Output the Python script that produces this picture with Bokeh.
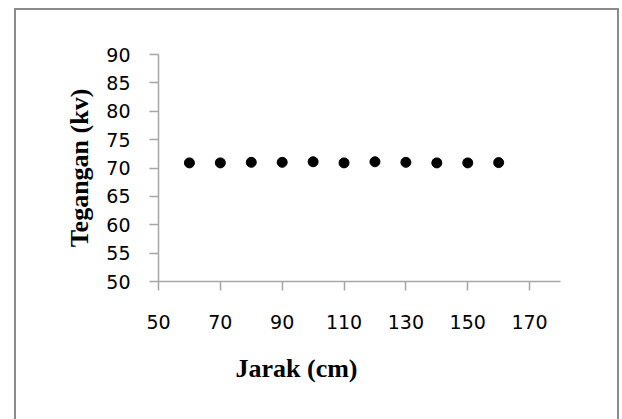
from bokeh.plotting import figure
from bokeh.models import Range1d, FixedTicker, Title, ColumnDataSource
from bokeh.embed import file_html
from bokeh.resources import INLINE

# Data
jarak = [60, 70, 80, 90, 100, 110, 120, 130, 140, 150, 160]
tegangan = [70.9, 70.9, 71.0, 71.0, 71.1, 70.9, 71.1, 71.0, 70.9, 70.9, 70.95]
x_ticks = [50, 70, 90, 110, 130, 150, 170]
y_ticks = [50, 55, 60, 65, 70, 75, 80, 85, 90]

source = ColumnDataSource(data=dict(x=jarak, y=tegangan))

p = figure(
    width=605, height=411,
    x_range=Range1d(50, 180), y_range=Range1d(50, 90),
    output_backend="svg", toolbar_location=None,
    min_border_left=144, min_border_right=59,
    min_border_top=46, min_border_bottom=138,
)
p.styles = {
    "margin-left": "14px",
    "margin-top": "8px",
    "margin-right": "-5px",
    "margin-bottom": "-8px",
    "box-shadow": "inset 2px 0 0 #8c8c8c, inset 0 2px 0 #8c8c8c, inset -2px 0 0 #8c8c8c",
}
p.border_fill_color = None
p.background_fill_color = "white"
p.outline_line_color = None
p.grid.visible = False

p.scatter("x", "y", source=source, size=10, color="black")

axis_color = "#a6a6a6"
for ax in (p.xaxis[0], p.yaxis[0]):
    ax.axis_line_color = axis_color
    ax.axis_line_width = 1.5
    ax.major_tick_line_color = axis_color
    ax.major_tick_line_width = 1.5
    ax.major_tick_in = 0
    ax.major_tick_out = 9
    ax.minor_tick_line_color = None
    ax.major_label_text_font = "DejaVu Sans"
    ax.major_label_text_font_size = "19px"
    ax.major_label_text_color = "black"

p.xaxis.ticker = FixedTicker(ticks=x_ticks)
p.yaxis.ticker = FixedTicker(ticks=y_ticks)
p.xaxis.major_label_standoff = 24
p.yaxis.major_label_standoff = 19

p.yaxis.axis_label = "Tegangan (kv)"
p.yaxis.axis_label_text_font = "Liberation Serif"
p.yaxis.axis_label_text_font_style = "bold"
p.yaxis.axis_label_text_font_size = "26px"
p.yaxis.axis_label_text_color = "black"
p.yaxis.axis_label_standoff = 9

xt = Title(text="Jarak (cm)", align="left", offset=77,
           text_font="Liberation Serif", text_font_style="bold",
           text_font_size="26px", text_color="black", standoff=41)
p.add_layout(xt, "below")

open("out.html", "w").write(file_html(p, INLINE))
